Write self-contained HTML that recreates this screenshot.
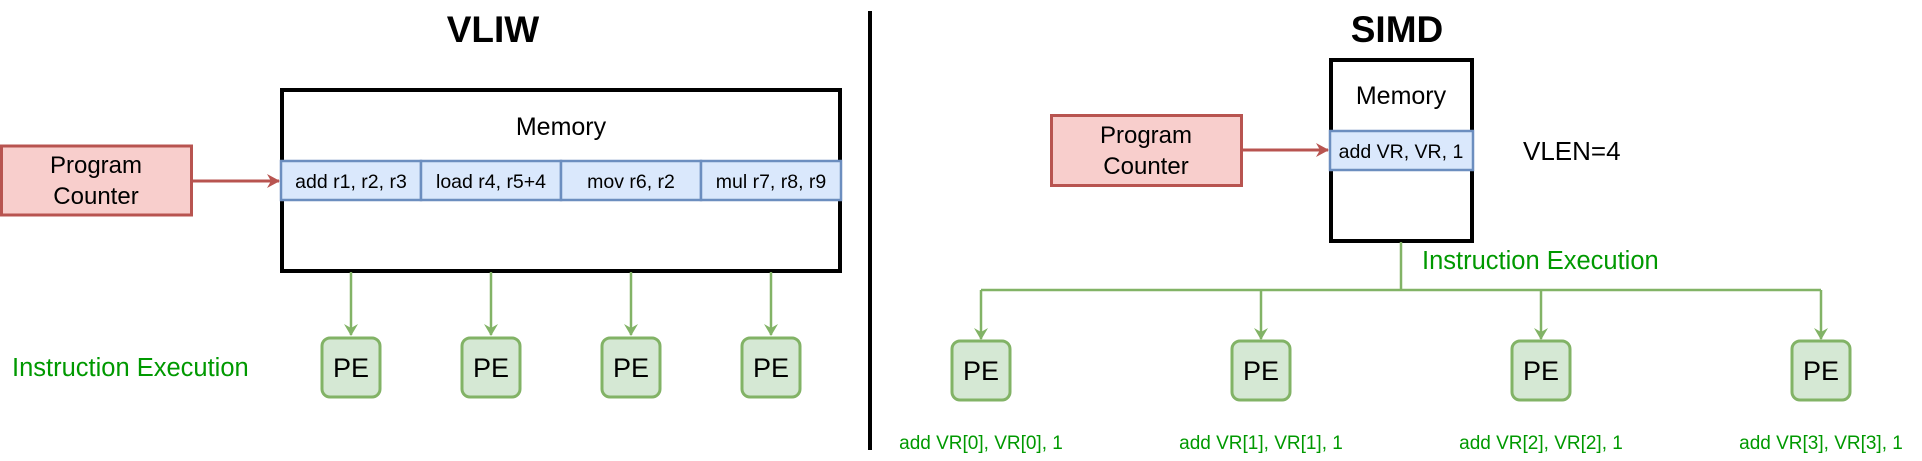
<!DOCTYPE html>
<html><head><style>
html,body{margin:0;padding:0;background:#fff;}
svg{display:block;}
text{font-family:"Liberation Sans",Arial,sans-serif;}
</style></head><body>
<svg width="1922" height="461" viewBox="0 0 1922 461" xmlns="http://www.w3.org/2000/svg">
<defs>
<marker id="ag" markerWidth="14" markerHeight="16" refX="11" refY="8" orient="auto" markerUnits="userSpaceOnUse"><path d="M0,1 L12,8 L0,15 L4,8 Z" fill="#82b366"/></marker>
<marker id="ar" markerWidth="14" markerHeight="16" refX="12" refY="8" orient="auto" markerUnits="userSpaceOnUse"><path d="M0,1 L13,8 L0,15 L4,8 Z" fill="#b85450"/></marker>
</defs>
<text x="493" y="42" font-size="37" font-weight="bold" text-anchor="middle">VLIW</text>
<text x="1397" y="42" font-size="37" font-weight="bold" text-anchor="middle">SIMD</text>
<line x1="870" y1="11" x2="870" y2="450" stroke="#000" stroke-width="4"/>

<rect x="282" y="90" width="558" height="181" fill="#fff" stroke="#000" stroke-width="4"/>
<text x="561" y="135" font-size="25" text-anchor="middle">Memory</text>
<g stroke="#6c8ebf" stroke-width="2.5" fill="#dae8fc">
<rect x="281" y="161" width="140" height="39"/>
<rect x="421" y="161" width="140" height="39"/>
<rect x="561" y="161" width="140" height="39"/>
<rect x="701" y="161" width="140" height="39"/>
</g>
<g font-size="19.5" text-anchor="middle">
<text x="351" y="188">add r1, r2, r3</text>
<text x="491" y="188">load r4, r5+4</text>
<text x="631" y="188">mov r6, r2</text>
<text x="771" y="188">mul r7, r8, r9</text>
</g>
<rect x="1.5" y="146" width="190" height="69" fill="#f8cecc" stroke="#b85450" stroke-width="3"/>
<text x="96" y="173" font-size="24" text-anchor="middle">Program</text>
<text x="96" y="204" font-size="24" text-anchor="middle">Counter</text>
<line x1="192" y1="181" x2="279" y2="181" stroke="#b85450" stroke-width="3" marker-end="url(#ar)"/>
<g stroke="#82b366" stroke-width="2.5">
<line x1="351" y1="272" x2="351" y2="335" marker-end="url(#ag)"/>
<line x1="491" y1="272" x2="491" y2="335" marker-end="url(#ag)"/>
<line x1="631" y1="272" x2="631" y2="335" marker-end="url(#ag)"/>
<line x1="771" y1="272" x2="771" y2="335" marker-end="url(#ag)"/>
</g>
<g fill="#d5e8d4" stroke="#82b366" stroke-width="3">
<rect x="322" y="338" width="58" height="59" rx="8"/>
<rect x="462" y="338" width="58" height="59" rx="8"/>
<rect x="602" y="338" width="58" height="59" rx="8"/>
<rect x="742" y="338" width="58" height="59" rx="8"/>
</g>
<g font-size="27" text-anchor="middle">
<text x="351" y="377">PE</text><text x="491" y="377">PE</text><text x="631" y="377">PE</text><text x="771" y="377">PE</text>
</g>
<text x="12" y="376" font-size="25.5" fill="#009900">Instruction Execution</text>

<rect x="1331" y="60" width="141" height="181" fill="#fff" stroke="#000" stroke-width="4"/>
<text x="1401" y="104" font-size="25" text-anchor="middle">Memory</text>
<rect x="1330" y="131" width="143" height="39" fill="#dae8fc" stroke="#6c8ebf" stroke-width="2.5"/>
<text x="1401" y="158" font-size="19.5" text-anchor="middle">add VR, VR, 1</text>
<text x="1523" y="160" font-size="26">VLEN=4</text>
<rect x="1051.5" y="115.5" width="190" height="70" fill="#f8cecc" stroke="#b85450" stroke-width="3"/>
<text x="1146" y="143" font-size="24" text-anchor="middle">Program</text>
<text x="1146" y="174" font-size="24" text-anchor="middle">Counter</text>
<line x1="1242" y1="150" x2="1328" y2="150" stroke="#b85450" stroke-width="3" marker-end="url(#ar)"/>
<g stroke="#82b366" stroke-width="2.5" fill="none">
<line x1="1401" y1="242" x2="1401" y2="290"/>
<line x1="981" y1="290" x2="1821" y2="290"/>
<line x1="981" y1="290" x2="981" y2="339" marker-end="url(#ag)"/>
<line x1="1261" y1="290" x2="1261" y2="339" marker-end="url(#ag)"/>
<line x1="1541" y1="290" x2="1541" y2="339" marker-end="url(#ag)"/>
<line x1="1821" y1="290" x2="1821" y2="339" marker-end="url(#ag)"/>
</g>
<text x="1422" y="269" font-size="25.5" fill="#009900">Instruction Execution</text>
<g fill="#d5e8d4" stroke="#82b366" stroke-width="3">
<rect x="952" y="341" width="58" height="59" rx="8"/>
<rect x="1232" y="341" width="58" height="59" rx="8"/>
<rect x="1512" y="341" width="58" height="59" rx="8"/>
<rect x="1792" y="341" width="58" height="59" rx="8"/>
</g>
<g font-size="27" text-anchor="middle">
<text x="981" y="380">PE</text><text x="1261" y="380">PE</text><text x="1541" y="380">PE</text><text x="1821" y="380">PE</text>
</g>
<g font-size="19" fill="#009900" text-anchor="middle">
<text x="981" y="449">add VR[0], VR[0], 1</text>
<text x="1261" y="449">add VR[1], VR[1], 1</text>
<text x="1541" y="449">add VR[2], VR[2], 1</text>
<text x="1821" y="449">add VR[3], VR[3], 1</text>
</g>
</svg>
</body></html>
